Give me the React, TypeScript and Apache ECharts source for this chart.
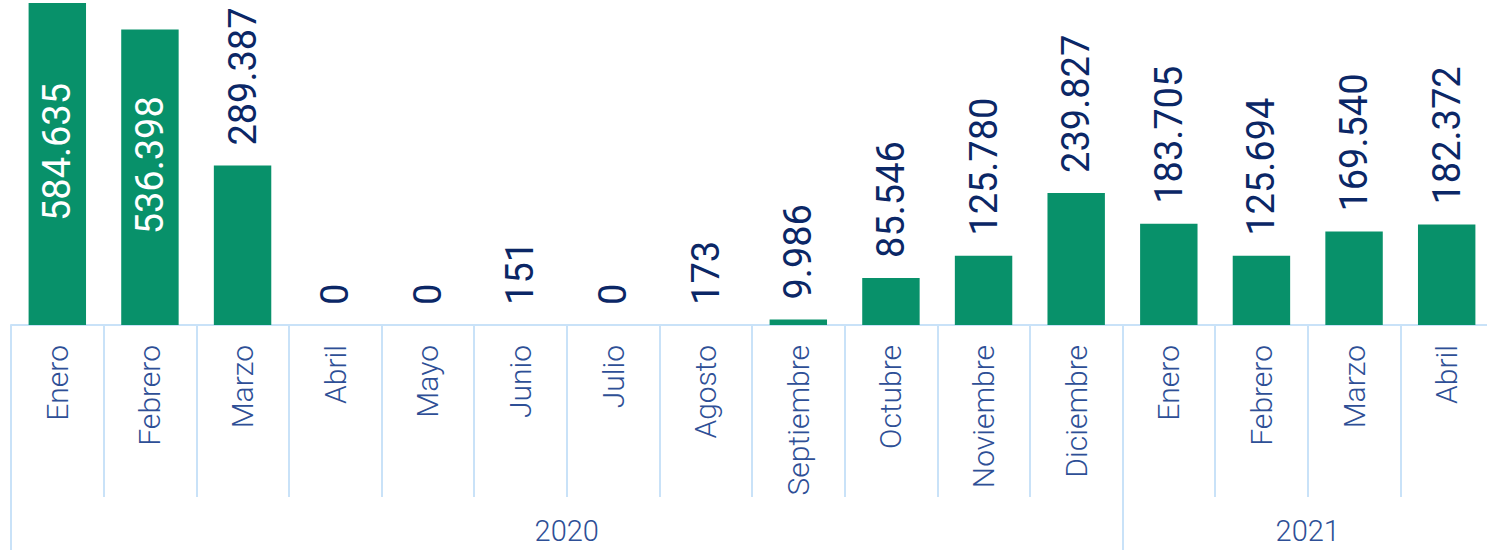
import React, { useEffect, useRef } from "react";
import * as echarts from "echarts";

const months = [
  "Enero", "Febrero", "Marzo", "Abril", "Mayo", "Junio", "Julio", "Agosto",
  "Septiembre", "Octubre", "Noviembre", "Diciembre",
  "Enero", "Febrero", "Marzo", "Abril",
];
const values = [
  584635, 536398, 289387, 0, 0, 151, 0, 173, 9986, 85546, 125780, 239827,
  183705, 125694, 169540, 182372,
];
const years = ["2020", "2021"];
const yearStarts = [0, 12, 16];
const insideIdx = [0, 1];

const fmt = (v: number) => String(v).replace(/\B(?=(\d{3})+(?!\d))/g, ".");

const GREEN = "#08916A";
const NAVY = "#0B2766";
const BLUE = "#2E4F96";
const LINE = "#C9E2F8";
const FONT = "Roboto, 'Liberation Sans', sans-serif";

export default function App() {
  const ref = useRef<HTMLDivElement>(null);
  useEffect(() => {
    document.body.style.margin = "0";
    const chart = echarts.init(ref.current!, null, { renderer: "svg" });
    const seriesData = values.map((v, i) =>
      insideIdx.includes(i)
        ? {
            value: v,
            label: {
              position: "inside",
              color: "#ffffff",
              align: "center",
              verticalAlign: "middle",
              offset: [12, 0],
            },
          }
        : { value: v }
    );
    const yearCenters = years.map((_, i) => (yearStarts[i] + yearStarts[i + 1]) / 2);
    chart.setOption({
      animation: false,
      grid: { left: 11, right: 0, top: 3, bottom: 225, containLabel: false },
      xAxis: [
        {
          type: "category",
          data: months,
          axisLine: { show: true, lineStyle: { color: LINE, width: 2 } },
          axisTick: {
            show: true,
            interval: 0,
            alignWithLabel: false,
            length: 172,
            lineStyle: { color: LINE, width: 2 },
          },
          axisLabel: {
            interval: 0,
            rotate: 90,
            margin: 20,
            color: BLUE,
            fontSize: 30,
            fontWeight: 300,
            fontFamily: FONT,
          },
        },
        {
          type: "value",
          min: 0,
          max: 16,
          position: "bottom",
          axisLine: { show: false },
          splitLine: { show: false },
          axisTick: {
            show: true,
            customValues: yearStarts,
            length: 225,
            lineStyle: { color: LINE, width: 2 },
          },
          axisLabel: {
            customValues: yearCenters,
            formatter: (v: number) => years[yearCenters.indexOf(v)] ?? "",
            margin: 191,
            color: BLUE,
            fontSize: 29,
            fontWeight: 300,
            fontFamily: FONT,
          },
        },
      ],
      yAxis: {
        type: "value",
        min: 0,
        max: "dataMax",
        show: false,
        splitLine: { show: false },
      },
      series: [
        {
          type: "bar",
          data: seriesData,
          barCategoryGap: "38%",
          itemStyle: { color: GREEN },
          label: {
            show: true,
            position: "top",
            rotate: 90,
            align: "left",
            verticalAlign: "middle",
            distance: 20,
            color: NAVY,
            fontSize: 38,
            fontFamily: FONT,
            formatter: (p: any) => fmt(p.value),
          },
        },
      ],
    });
    return () => chart.dispose();
  }, []);
  return (
    <div
      style={{
        position: "absolute",
        left: 0,
        top: 0,
        width: 1487,
        height: 550,
        overflow: "hidden",
      }}
    >
      <div ref={ref} style={{ width: 1493, height: 550 }} />
    </div>
  );
}
